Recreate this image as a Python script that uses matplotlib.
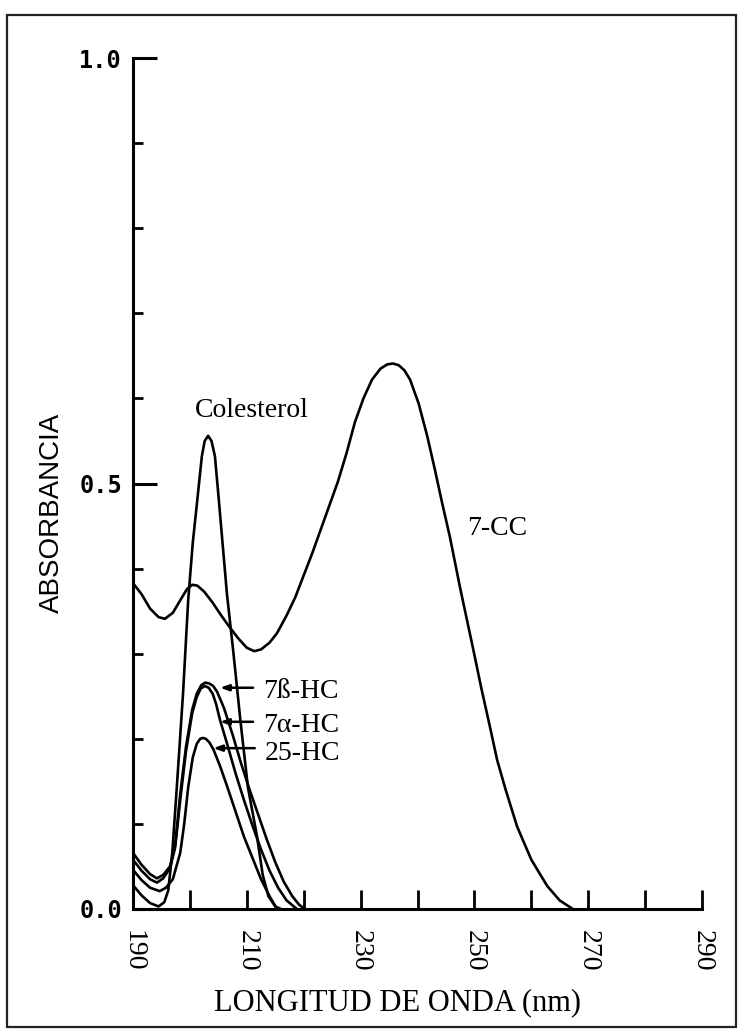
import numpy as np
import matplotlib.pyplot as plt
from matplotlib.patches import Rectangle
from matplotlib.ticker import MultipleLocator

# ---- data ----
wl_7cc = [190.0, 191.5, 193.0, 194.5, 195.6, 197.0, 198.5, 199.5, 200.4, 201.3,
          202.5, 204.0, 205.5, 207.0, 208.5, 210.0, 211.3, 212.5, 214.0, 215.3,
          217.0, 218.5, 220.0, 221.5, 223.0, 224.5, 226.0, 227.5, 229.0, 230.5,
          232.0, 233.5, 234.7, 235.7, 236.7, 237.7, 238.7, 240.2, 241.7, 243.0,
          244.3, 245.7, 247.5, 249.8, 251.2, 252.7, 254.0, 255.5, 257.5, 260.0,
          262.8, 265.0, 267.3]
abs_7cc = [0.383, 0.370, 0.353, 0.343, 0.341, 0.348, 0.365, 0.376, 0.381, 0.380,
           0.373, 0.360, 0.345, 0.331, 0.318, 0.307, 0.303, 0.305, 0.313, 0.324,
           0.345, 0.366, 0.392, 0.418, 0.446, 0.474, 0.502, 0.535, 0.572, 0.600,
           0.622, 0.635, 0.640, 0.641, 0.639, 0.633, 0.622, 0.594, 0.556, 0.518,
           0.478, 0.437, 0.377, 0.305, 0.260, 0.215, 0.175, 0.140, 0.097, 0.058,
           0.027, 0.010, 0.0]

wl_col = [190.0, 191.5, 193.0, 194.5, 195.5, 196.2, 196.9, 197.7, 198.8, 199.7,
          200.5, 201.4, 202.1, 202.6, 203.2, 203.8, 204.4, 205.0, 206.5, 207.6,
          208.9, 210.2, 211.8, 212.8, 213.8, 215.0, 216.0]
abs_col = [0.028, 0.016, 0.007, 0.003, 0.008, 0.022, 0.066, 0.143, 0.254, 0.363,
           0.430, 0.487, 0.532, 0.550, 0.556, 0.550, 0.532, 0.487, 0.371, 0.304,
           0.220, 0.143, 0.085, 0.040, 0.015, 0.003, 0.0]

wl_7b = [190.0, 191.5, 193.0, 194.2, 195.3, 196.5, 197.4, 198.3, 199.3, 200.4,
         201.2, 202.0, 202.7, 203.4, 204.1, 204.8, 206.0, 207.5, 209.0, 210.5,
         212.0, 213.5, 215.0, 216.5, 218.0, 219.2, 220.2]
abs_7b = [0.066, 0.052, 0.041, 0.036, 0.040, 0.050, 0.075, 0.135, 0.190, 0.234,
          0.253, 0.263, 0.266, 0.265, 0.262, 0.255, 0.236, 0.205, 0.171, 0.140,
          0.111, 0.082, 0.055, 0.032, 0.015, 0.005, 0.0]

wl_7a = [190.0, 191.5, 193.0, 194.2, 195.3, 196.5, 197.4, 198.3, 199.3, 200.4,
         201.2, 201.9, 202.6, 203.3, 204.0, 204.6, 205.3, 206.5, 208.0, 209.5,
         211.0, 212.5, 214.0, 215.5, 217.0, 218.8]
abs_7a = [0.058, 0.045, 0.035, 0.031, 0.036, 0.048, 0.072, 0.128, 0.185, 0.230,
          0.249, 0.259, 0.262, 0.260, 0.253, 0.241, 0.222, 0.195, 0.160, 0.128,
          0.098, 0.070, 0.045, 0.025, 0.010, 0.0]

wl_25 = [190.0, 191.5, 193.0, 194.7, 195.8, 197.0, 198.3, 199.0, 199.7, 200.5,
         201.2, 201.8, 202.3, 202.8, 203.4, 204.1, 205.3, 206.5, 208.0, 209.5,
         211.0, 212.5, 214.0, 215.3]
abs_25 = [0.046, 0.034, 0.025, 0.021, 0.025, 0.035, 0.066, 0.100, 0.143, 0.178,
          0.194, 0.200, 0.201, 0.200, 0.196, 0.188, 0.168, 0.145, 0.115, 0.085,
          0.060, 0.035, 0.015, 0.0]

x_ticks = [190, 210, 230, 250, 270, 290]
y_ticks = [0.0, 0.5, 1.0]

serif = 'Liberation Serif'
sans = 'Liberation Sans'

fig = plt.figure(figsize=(7.41, 10.31), dpi=100)
fig.patch.set_facecolor('white')

# plot box in pixel units of the original (741 x 1031)
W, H = 741, 1031
ax = fig.add_axes([133 / W, 1 - 909 / H, (702 - 133) / W, (909 - 58) / H])

lw = 1.9
for xs, ys in [(wl_7cc, abs_7cc), (wl_col, abs_col), (wl_7b, abs_7b),
               (wl_7a, abs_7a), (wl_25, abs_25)]:
    ax.plot(xs, ys, color='black', lw=lw, solid_capstyle='round', solid_joinstyle='round')

ax.set_xlim(190, 290)
ax.set_ylim(0, 1.0)

for s in ['top', 'right']:
    ax.spines[s].set_visible(False)
for s in ['left', 'bottom']:
    ax.spines[s].set_linewidth(2.2)

ax.set_xticks(x_ticks)
ax.xaxis.set_minor_locator(MultipleLocator(10))
ax.set_xticklabels([str(v) for v in x_ticks], rotation=-90, fontsize=20,
                   family=serif, va='top', ha='center')
ax.tick_params(axis='x', which='both', direction='in', length=14, width=2.0, pad=15)

ax.set_yticks(y_ticks)
ax.yaxis.set_minor_locator(MultipleLocator(0.1))
ax.set_yticklabels(['0.0', '0.5', '1.0'], fontsize=17, family='DejaVu Sans Mono',
                   weight='bold')
ax.tick_params(axis='y', which='major', direction='in', length=17, width=2.2, pad=8)
ax.tick_params(axis='y', which='minor', direction='in', length=7, width=2.0)

fig.text(398 / W, 1 - 1003 / H, 'LONGITUD DE ONDA (nm)', fontsize=22, family=serif,
         ha='center', va='center')
fig.text(52 / W, 1 - 513 / H, 'ABSORBANCIA', rotation=90, fontsize=20, family=sans,
         ha='center', va='center')

# curve labels
ax.text(210.9, 0.586, 'Colesterol', fontsize=20, family=serif, ha='center', va='center')
ax.text(248.7, 0.447, '7-CC', fontsize=20, family=serif, ha='left', va='center')

labels = [('7ß-HC', 205.3, 211.1, 0.260, 0.255),
          ('7α-HC', 205.3, 211.1, 0.220, 0.216),
          ('25-HC', 204.1, 211.4, 0.189, 0.183)]
for txt, x0, x1, yl, yt in labels:
    ax.annotate('', xy=(x0, yl), xytext=(x1, yl),
                arrowprops=dict(arrowstyle='-|>,head_length=0.5,head_width=0.18',
                                color='black', lw=1.8, shrinkA=0, shrinkB=0))
    ax.text(x1 + 1.7, yt, txt, fontsize=20, family=serif, ha='left', va='center')

# outer frame of the scanned figure
fig.patches.append(Rectangle((7 / W, 1 - 1027 / H), (736 - 7) / W, (1027 - 15) / H,
                             fill=False, lw=1.6, ec='#222222',
                             transform=fig.transFigure, figure=fig))

fig.savefig('out.png', dpi=100, facecolor='white')
